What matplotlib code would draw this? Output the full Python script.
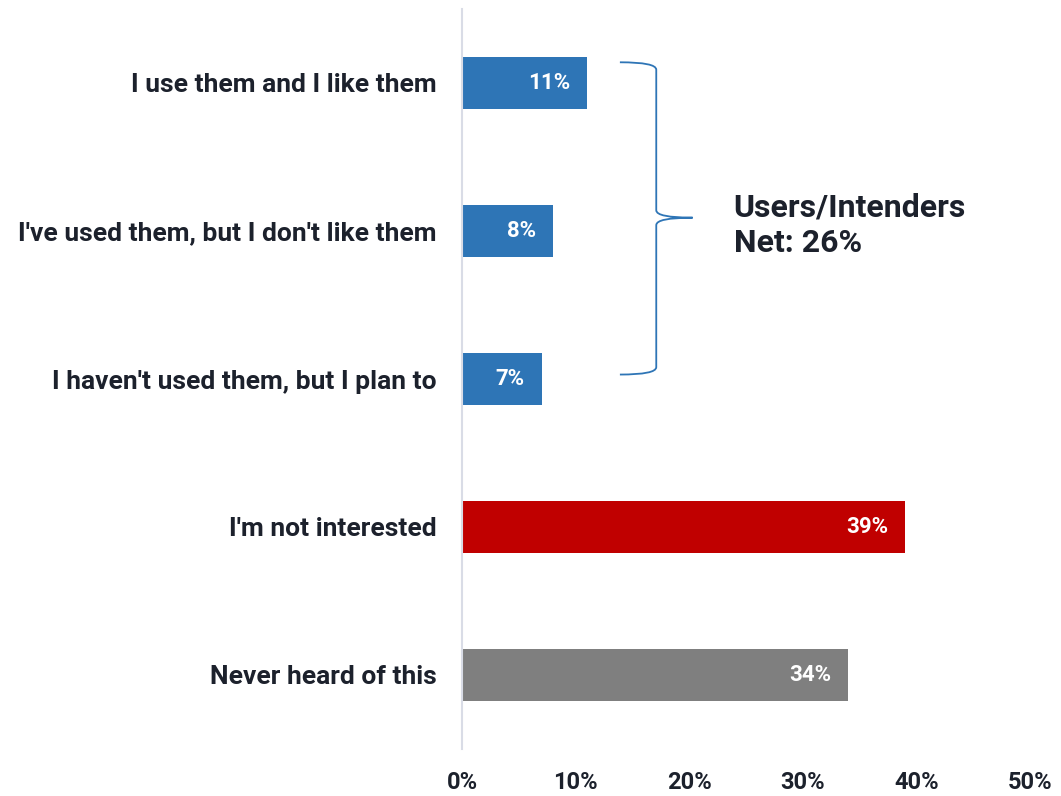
import matplotlib.pyplot as plt
from matplotlib.path import Path
from matplotlib.patches import PathPatch

# survey answers, top to bottom
labels = ["I use them and I like them",
          "I've used them, but I don't like them",
          "I haven't used them, but I plan to",
          "I'm not interested",
          "Never heard of this"]
values = [11, 8, 7, 39, 34]
colors = ["#2E75B6", "#2E75B6", "#2E75B6", "#C00000", "#7F7F7F"]
net_label = "Users/Intenders\nNet: 26%"
xticks = [0, 10, 20, 30, 40, 50]

plt.rcParams['font.family'] = ['Roboto', 'DejaVu Sans']
txt = "#1C212C"

fig = plt.figure(figsize=(10.61, 7.96), dpi=100)
ax = fig.add_axes([462/1061, 47/796, 568/1061, 740/796])

ypos = list(range(len(labels)))
ax.barh(ypos, values, height=0.35, color=colors)
ax.set_ylim(len(labels) - 0.5, -0.5)
ax.set_xlim(0, 50)

# value labels inside the bar ends
for y, v in zip(ypos, values):
    ax.annotate(f"{v}%", (v, y), xytext=(-12, 0), textcoords="offset points",
                ha="right", va="center", color="white", fontsize=16, fontweight="bold")

ax.set_yticks(ypos)
ax.set_yticklabels(labels, fontsize=19, fontweight="bold", color=txt)
ax.set_xticks(xticks)
ax.set_xticklabels([f"{t}%" for t in xticks], fontsize=17, fontweight="bold", color=txt)
ax.tick_params(axis="y", length=0, pad=18)
ax.tick_params(axis="x", length=0, pad=16)

for s in ["top", "right", "bottom"]:
    ax.spines[s].set_visible(False)
ax.spines["left"].set_color("#D9DCE6")
ax.spines["left"].set_linewidth(1.5)

# curly brace grouping the first three answers
def brace(ax, x0, x1, xtip, ytop, ybot, ymid, r=0.05):
    verts = [(x0, ytop), (x1, ytop), (x1, ytop + r),
             (x1, ymid - r), (x1, ymid), (xtip, ymid),
             (x1, ymid), (x1, ymid + r),
             (x1, ybot - r), (x1, ybot), (x0, ybot)]
    codes = [Path.MOVETO, Path.CURVE3, Path.CURVE3,
             Path.LINETO, Path.CURVE3, Path.CURVE3,
             Path.CURVE3, Path.CURVE3,
             Path.LINETO, Path.CURVE3, Path.CURVE3]
    ax.add_patch(PathPatch(Path(verts, codes), fill=False,
                           edgecolor="#2E75B6", lw=1.3, clip_on=False))

brace(ax, 13.9, 17.1, 20.3, -0.14, 1.97, 0.91)

ax.text(23.9, 0.96, net_label, ha="left", va="center", fontsize=23,
        fontweight="bold", color=txt, linespacing=1.25)

fig.savefig("out.png", dpi=100)
